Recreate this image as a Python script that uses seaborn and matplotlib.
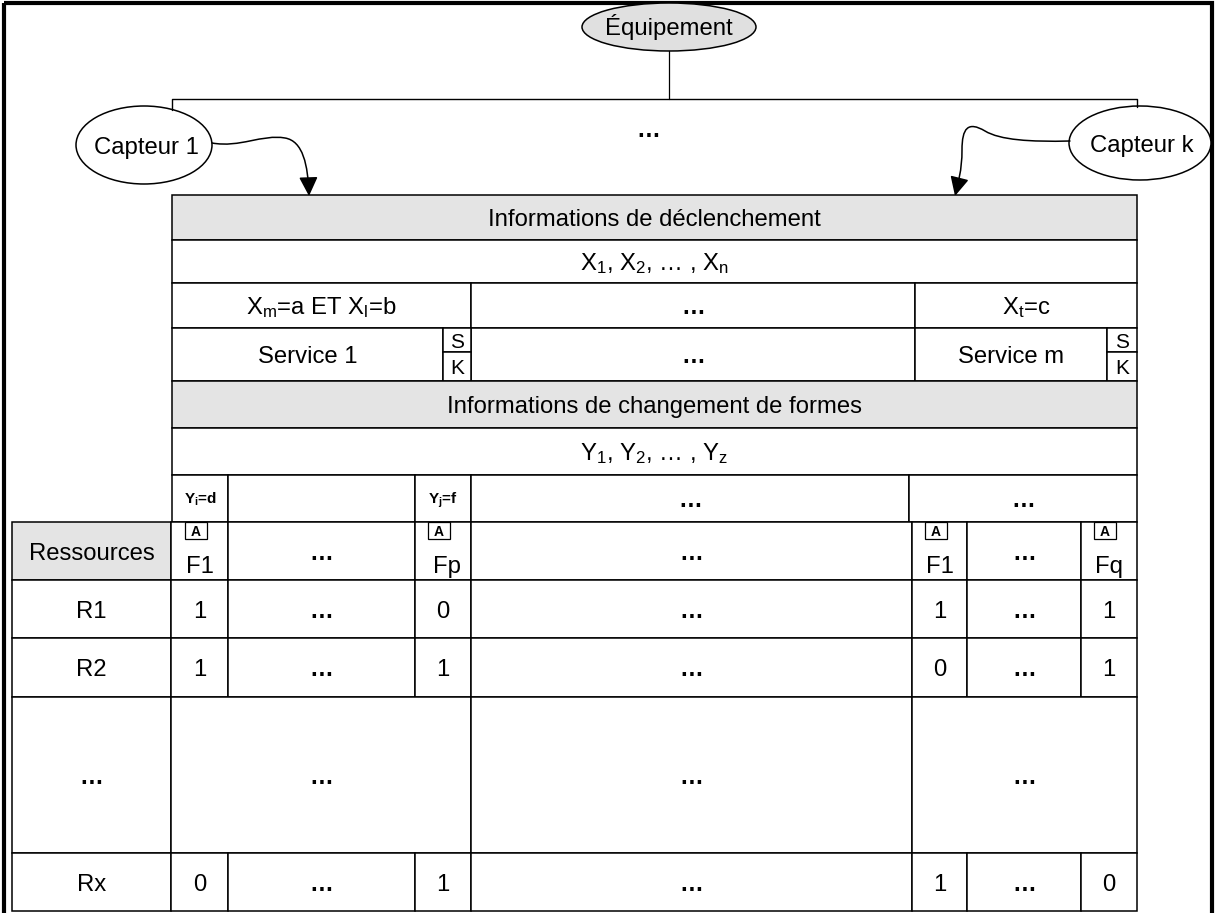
import matplotlib.pyplot as plt
import seaborn as sns
from matplotlib.patches import Rectangle, Ellipse, FancyArrowPatch
from matplotlib.path import Path

# ==========================================
# 1. CONTENT OF THE DIAGRAM
# ==========================================
equipment = "Équipement"
sensors = ["Capteur 1", "Capteur k"]
trigger_header = "Informations de déclenchement"
trigger_vars = "X$_1$, X$_2$, … , X$_n$"
conditions = ["X$_m$=a ET X$_l$=b", "…", "X$_t$=c"]
services = ["Service 1", "…", "Service m"]
service_flags = ["S", "K"]
shape_header = "Informations de changement de formes"
shape_vars = "Y$_1$, Y$_2$, … , Y$_z$"
shape_conditions = ["Y$_\\mathbf{i}$=d", "", "Y$_\\mathbf{j}$=f", "…", "…"]
resource_header = "Ressources"
form_labels = ["F1", "…", "Fp", "…", "F1", "…", "Fq"]
form_flag = "A"
resources = ["R1", "R2", "…", "Rx"]
values_r1 = ["1", "…", "0", "…", "1", "…", "1"]
values_r2 = ["1", "…", "1", "…", "0", "…", "1"]
values_gap = ["…", "…", "…"]
values_rx = ["0", "…", "1", "…", "1", "…", "0"]

# ==========================================
# 2. LAYOUT (pixel grid of the figure)
# ==========================================
top_rows = [195, 240, 283, 328, 381, 428, 475, 522]
cond_cols = [172, 471, 915, 1137]
service_cols = [172, 443, 471, 915, 1107, 1137]
shape_cols = [172, 228, 415, 471, 909, 1137]
matrix_rows = [522, 580, 638, 697, 853, 911]
matrix_cols = [12, 171, 228, 415, 471, 912, 967, 1081, 1137]
gap_cols = [12, 171, 471, 912, 1137]

GRAY = '#e4e4e4'
LW = 1.1
FS = 17.2

sns.set_theme(style="white")
plt.rcParams['font.family'] = ['Liberation Sans', 'DejaVu Sans']
plt.rcParams['mathtext.fontset'] = 'custom'
plt.rcParams['mathtext.rm'] = 'Liberation Sans'
plt.rcParams['mathtext.it'] = 'Liberation Sans'
plt.rcParams['mathtext.bf'] = 'Liberation Sans:bold'

fig = plt.figure(figsize=(12.17, 9.13), dpi=100)
ax = fig.add_axes([0, 0, 1, 1])
ax.set_xlim(0, 1217)
ax.set_ylim(913, 0)
ax.axis('off')


def label(x, y, text, fs=FS, weight='normal', ha='center'):
    # y is the visual middle of capital letters
    ax.text(x, y + 0.36 * fs / 0.72, text, fontsize=fs, fontweight=weight,
            ha=ha, va='baseline', color='black')


def cell(x0, x1, y0, y1, text='', fill='white', fs=FS, weight=None, tx=None):
    ax.add_patch(Rectangle((x0, y0), x1 - x0, y1 - y0, facecolor=fill,
                           edgecolor='black', lw=LW))
    if text:
        if weight is None:
            weight = 'bold' if text == '…' else 'normal'
        label((x0 + x1) / 2 if tx is None else tx, (y0 + y1) / 2, text, fs, weight)


# outer frame (bottom edge runs off the picture, as in the original)
ax.add_patch(Rectangle((4, 3), 1208, 930, fill=False, edgecolor='black', lw=3,
                       clip_on=True))

# ==========================================
# 3. EQUIPMENT AND SENSORS
# ==========================================
ax.add_patch(Ellipse((669, 27), 174, 48, facecolor='#e0e0e0', edgecolor='black', lw=LW))
label(669, 26, equipment)
ax.plot([669, 669], [51, 99], color='black', lw=0.9)
ax.plot([172, 172, 1137, 1137], [110, 99, 99, 107], color='black', lw=1.0)
label(648, 128, "…", weight='bold')

sensor_pos = [(144, 145, 136, 78), (1140, 143, 142, 74)]
for name, (cx, cy, w, h) in zip(sensors, sensor_pos):
    ax.add_patch(Ellipse((cx, cy), w, h, facecolor='white', edgecolor='black', lw=LW))
    label(cx + 2, cy, name)

arrow_paths = [
    [(212, 143), (240, 148), (262, 134), (285, 138), (303, 141), (308, 165), (309, 196)],
    [(1070, 141), (1030, 142), (1000, 140), (985, 131), (968, 121), (962, 128), (962, 150),
     (962, 170), (958, 184), (955, 196)],
]
for verts in arrow_paths:
    codes = [Path.MOVETO] + [Path.CURVE4] * (len(verts) - 1)
    ax.add_patch(FancyArrowPatch(path=Path(verts, codes),
                                 arrowstyle='-|>,head_length=0.65,head_width=0.32',
                                 mutation_scale=18, color='black', lw=1.1,
                                 shrinkA=0, shrinkB=0))

# ==========================================
# 4. TRIGGER / SHAPE TABLE
# ==========================================
r = top_rows
cell(172, 1137, r[0], r[1], trigger_header, fill=GRAY)
cell(172, 1137, r[1], r[2], trigger_vars)
for i, txt in enumerate(conditions):
    cell(cond_cols[i], cond_cols[i + 1], r[2], r[3], txt)

sc = service_cols
cell(sc[0], sc[1], r[3], r[4], services[0])
cell(sc[2], sc[3], r[3], r[4], services[1])
cell(sc[3], sc[4], r[3], r[4], services[2])
mid = 352
for x0, x1 in [(sc[1], sc[2]), (sc[4], sc[5])]:
    cell(x0, x1, r[3], mid, service_flags[0], fs=15)
    cell(x0, x1, mid, r[4], service_flags[1], fs=15)

cell(172, 1137, r[4], r[5], shape_header, fill=GRAY)
cell(172, 1137, r[5], r[6], shape_vars)
for i, txt in enumerate(shape_conditions):
    small = txt.startswith('Y')
    cell(shape_cols[i], shape_cols[i + 1], r[6], r[7], txt,
         fs=11 if small else FS, weight='bold')

# ==========================================
# 5. RESOURCE MATRIX
# ==========================================
m = matrix_rows
mc = matrix_cols
cell(mc[0], mc[1], m[0], m[1], resource_header, fill=GRAY)
for i, txt in enumerate(form_labels):
    x0, x1 = mc[i + 1], mc[i + 2]
    if txt == '…':
        cell(x0, x1, m[0], m[1], txt)
        continue
    cell(x0, x1, m[0], m[1])
    bx = (x0 + x1) / 2 - 4
    ax.add_patch(Rectangle((bx - 11, m[0]), 22, 17, facecolor='white',
                           edgecolor='black', lw=0.9))
    label(bx, m[0] + 8.5, form_flag, fs=10, weight='bold')
    fx = (x0 + x1) / 2 + (4 if txt == 'Fp' else 0)
    label(fx, 564, txt)

for j, row in enumerate([values_r1, values_r2]):
    cell(mc[0], mc[1], m[j + 1], m[j + 2], resources[j])
    for i, txt in enumerate(row):
        cell(mc[i + 1], mc[i + 2], m[j + 1], m[j + 2], txt)

cell(gap_cols[0], gap_cols[1], m[3], m[4], resources[2])
for i, txt in enumerate(values_gap):
    cell(gap_cols[i + 1], gap_cols[i + 2], m[3], m[4], txt)

cell(mc[0], mc[1], m[4], m[5], resources[3])
for i, txt in enumerate(values_rx):
    cell(mc[i + 1], mc[i + 2], m[4], m[5], txt)

fig.savefig('out.png', dpi=100)
